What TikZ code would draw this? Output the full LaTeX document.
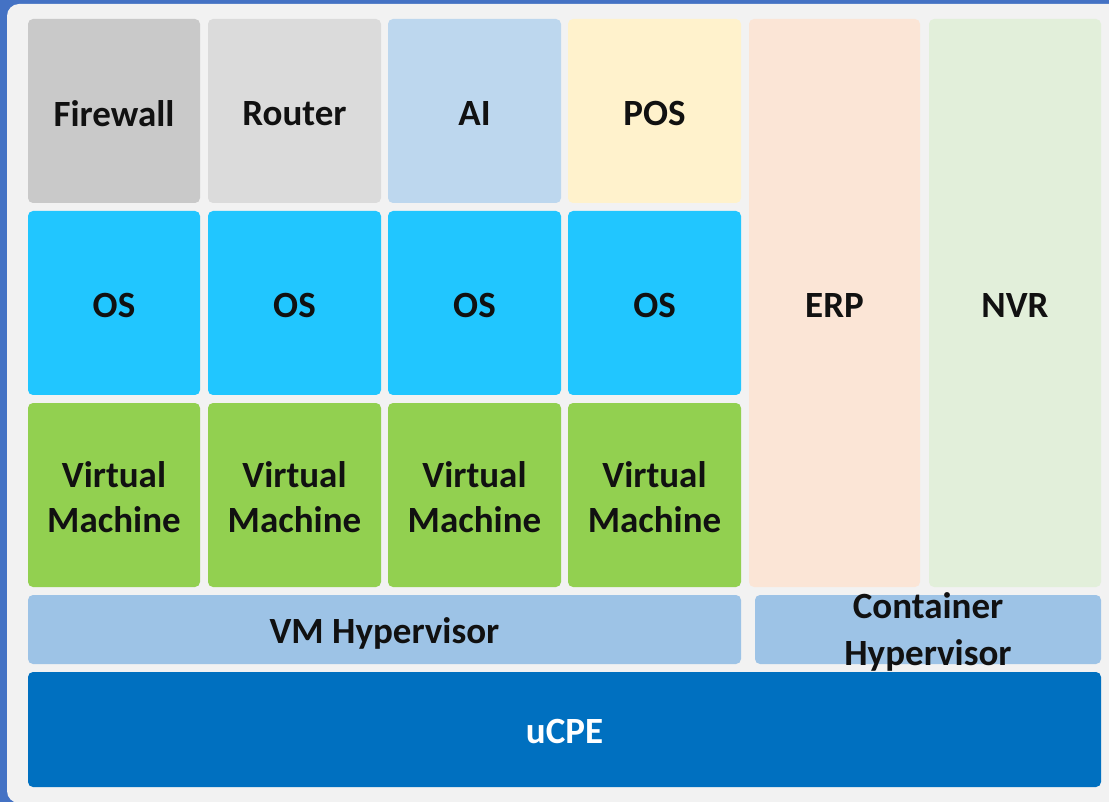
\documentclass[tikz,border=0pt]{standalone}
\usepackage{fontspec}
\setmainfont{Carlito}
\definecolor{frameblue}{HTML}{4472C4}
\definecolor{panel}{HTML}{F2F2F2}
\definecolor{fwgray}{HTML}{C9C9C9}
\definecolor{rtgray}{HTML}{DBDBDB}
\definecolor{aiblue}{HTML}{BDD7EE}
\definecolor{posyel}{HTML}{FFF2CC}
\definecolor{oscyan}{HTML}{21C6FF}
\definecolor{vmgreen}{HTML}{92D050}
\definecolor{erppeach}{HTML}{FBE5D6}
\definecolor{nvrgreen}{HTML}{E2EFDA}
\definecolor{hypblue}{HTML}{9DC3E6}
\definecolor{ucpeblue}{HTML}{0070C0}
\definecolor{txt}{HTML}{111111}
\tikzset{
  layerbox/.style={draw=none, rounded corners=5pt, inner sep=0pt},
  lbl/.style={inner sep=0pt, align=center, text=txt, yshift=-2.5pt,
    font=\fontsize{37}{45}\selectfont\bfseries},
}
\begin{document}
\begin{tikzpicture}[x=1pt,y=-1pt]
\useasboundingbox (0,0) rectangle (1109,802);
\fill[frameblue] (0,0) rectangle (1109,802);
\fill[panel, rounded corners=12pt] (7,4) rectangle (1125,803);
% top row
\node[layerbox, fill=fwgray, minimum width=172pt, minimum height=184pt, label={[lbl]center:Firewall}] (fw) at (114,111) {};
\node[layerbox, fill=rtgray, minimum width=173pt, minimum height=184pt, label={[lbl]center:Router}] (rt) at (294.5,111) {};
\node[layerbox, fill=aiblue, minimum width=173pt, minimum height=184pt, label={[lbl]center:AI}] (ai) at (474.5,111) {};
\node[layerbox, fill=posyel, minimum width=173pt, minimum height=184pt, label={[lbl]center:POS}] (pos) at (654.5,111) {};
% OS row
\node[layerbox, fill=oscyan, minimum width=172pt, minimum height=184pt, label={[lbl]center:OS}] (os1) at (114,303) {};
\node[layerbox, fill=oscyan, minimum width=173pt, minimum height=184pt, label={[lbl]center:OS}] (os2) at (294.5,303) {};
\node[layerbox, fill=oscyan, minimum width=173pt, minimum height=184pt, label={[lbl]center:OS}] (os3) at (474.5,303) {};
\node[layerbox, fill=oscyan, minimum width=173pt, minimum height=184pt, label={[lbl]center:OS}] (os4) at (654.5,303) {};
% VM row
\node[layerbox, fill=vmgreen, minimum width=172pt, minimum height=184pt, label={[lbl]center:Virtual\\Machine}] (vm1) at (114,495) {};
\node[layerbox, fill=vmgreen, minimum width=173pt, minimum height=184pt, label={[lbl]center:Virtual\\Machine}] (vm2) at (294.5,495) {};
\node[layerbox, fill=vmgreen, minimum width=173pt, minimum height=184pt, label={[lbl]center:Virtual\\Machine}] (vm3) at (474.5,495) {};
\node[layerbox, fill=vmgreen, minimum width=173pt, minimum height=184pt, label={[lbl]center:Virtual\\Machine}] (vm4) at (654.5,495) {};
% containers
\node[layerbox, fill=erppeach, minimum width=171pt, minimum height=568pt, label={[lbl]center:ERP}] (erp) at (834.5,303) {};
\node[layerbox, fill=nvrgreen, minimum width=172pt, minimum height=568pt, label={[lbl]center:NVR}] (nvr) at (1015,303) {};
% hypervisors
\node[layerbox, fill=hypblue, minimum width=713pt, minimum height=69pt, label={[lbl, yshift=-1.5pt]center:VM Hypervisor}] (vmh) at (384.5,629.5) {};
\node[layerbox, fill=hypblue, minimum width=346pt, minimum height=69pt, label={[lbl, font=\fontsize{37}{47}\selectfont\bfseries]center:Container\\Hypervisor}] (ch) at (928,629.5) {};
% uCPE
\node[layerbox, fill=ucpeblue, minimum width=1073pt, minimum height=115pt, label={[lbl, text=white]center:uCPE}] (ucpe) at (564.5,729.5) {};
\end{tikzpicture}
\end{document}
